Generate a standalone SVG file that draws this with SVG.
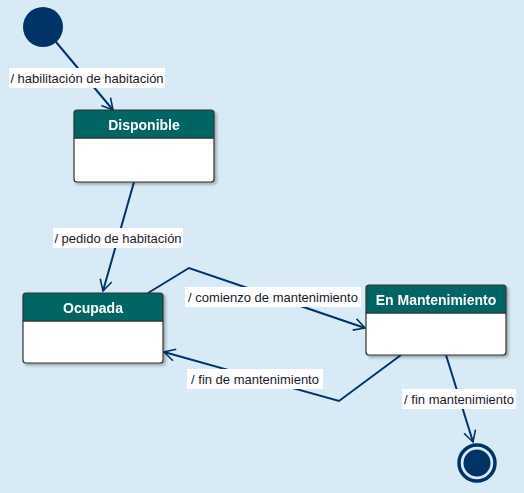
<svg xmlns="http://www.w3.org/2000/svg" width="524" height="493" viewBox="0 0 524 493">
<style>
.bg{fill:#d7eaf5}
.body{fill:#fff;stroke:#333;stroke-width:1.2}
.head{fill:#006563;stroke:#333;stroke-width:1.2}
.title{font-family:"Liberation Sans",Arial,sans-serif;font-size:14px;font-weight:bold;fill:#fff;text-anchor:middle}
.edge{fill:none;stroke:#003366;stroke-width:2}
.lblbox{fill:#fff}
.lbl{font-family:"Liberation Sans",Arial,sans-serif;font-size:13px;fill:#1a1a2a;text-anchor:middle}
</style>
<defs>
<marker id="arr" markerWidth="14" markerHeight="14" refX="12" refY="7" orient="auto" markerUnits="userSpaceOnUse">
<path d="M1,1 L12,7 L1,13" fill="none" stroke="#003366" stroke-width="1.6"/>
</marker>
<filter id="sh" x="-10%" y="-10%" width="130%" height="130%">
<feDropShadow dx="2" dy="2" stdDeviation="1.5" flood-color="#000" flood-opacity="0.3"/>
</filter>
</defs>
<rect class="bg" x="0" y="0" width="524" height="493"/>

<g id="connectors">
<path class="edge" d="M56,42 L113,110" marker-end="url(#arr)"/>
<path class="edge" d="M134,182 L103,291" marker-end="url(#arr)"/>
<path class="edge" d="M148,293 L189,268 L365,328" marker-end="url(#arr)"/>
<path class="edge" d="M401,355 L339,401 L164,352" marker-end="url(#arr)"/>
<path class="edge" d="M446,355 L473,442" marker-end="url(#arr)"/>
<rect class="lblbox" x="9" y="68" width="156" height="20"/>
<text class="lbl" x="87" y="83">/ habilitación de habitación</text>
<rect class="lblbox" x="53" y="228" width="130" height="20"/>
<text class="lbl" x="118" y="243">/ pedido de habitación</text>
<rect class="lblbox" x="185" y="287" width="176" height="20"/>
<text class="lbl" x="273" y="302">/ comienzo de mantenimiento</text>
<rect class="lblbox" x="187" y="369" width="136" height="20"/>
<text class="lbl" x="255" y="384">/ fin de mantenimiento</text>
<rect class="lblbox" x="402" y="389" width="114" height="20"/>
<text class="lbl" x="459" y="404">/ fin mantenimiento</text>
</g>

<g id="start">
<circle cx="43" cy="27" r="20" fill="#003366"/>
</g>

<g id="disponible" filter="url(#sh)">
<path class="body" d="M74,138 H214 V179 Q214,182 211,182 H77 Q74,182 74,179 Z"/>
<path class="head" d="M77,110 H211 Q214,110 214,113 V138 H74 V113 Q74,110 77,110 Z"/>
<text class="title" x="144" y="130">Disponible</text>
</g>

<g id="ocupada" filter="url(#sh)">
<path class="body" d="M23,321 H163 V360 Q163,363 160,363 H26 Q23,363 23,360 Z"/>
<path class="head" d="M26,293 H160 Q163,293 163,296 V321 H23 V296 Q23,293 26,293 Z"/>
<text class="title" x="93" y="313">Ocupada</text>
</g>

<g id="mantenimiento" filter="url(#sh)">
<path class="body" d="M366,313 H506 V352 Q506,355 503,355 H369 Q366,355 366,352 Z"/>
<path class="head" d="M369,285 H503 Q506,285 506,288 V313 H366 V288 Q366,285 369,285 Z"/>
<text class="title" x="436" y="305">En Mantenimiento</text>
</g>

<g id="end">
<circle cx="477" cy="463" r="18" fill="none" stroke="#003366" stroke-width="3.5"/>
<circle cx="477" cy="463" r="13.5" fill="#003366"/>
</g>
</svg>
